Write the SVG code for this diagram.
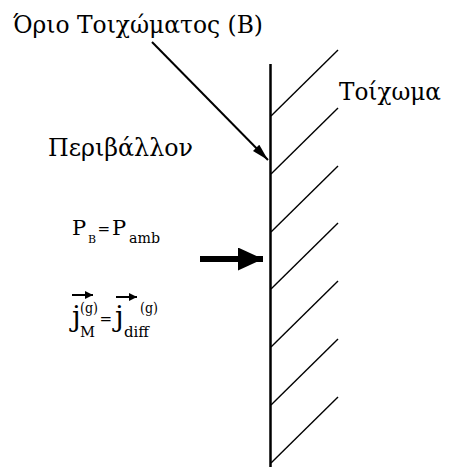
<svg xmlns="http://www.w3.org/2000/svg" width="449" height="468" viewBox="0 0 449 468">
<defs>
<style>
.hatch{stroke:#000;stroke-width:1.4;fill:none}
.vec{stroke:#000;stroke-width:2;fill:none}
</style>
<marker id="thin" viewBox="0 0 10 10" refX="10" refY="5" markerWidth="8" markerHeight="8" markerUnits="userSpaceOnUse" orient="auto"><path d="M0,0 L10,5 L0,10 z" fill="#000"/></marker>
<marker id="dhead" viewBox="0 0 10 10" refX="10" refY="5" markerWidth="17" markerHeight="9" markerUnits="userSpaceOnUse" orient="auto" preserveAspectRatio="none"><path d="M0,0 L10,5 L0,10 z" fill="#000"/></marker>
<marker id="bighead" viewBox="0 0 10 10" refX="10" refY="5" markerWidth="25" markerHeight="23" markerUnits="userSpaceOnUse" orient="auto" preserveAspectRatio="none"><path d="M0,0 L10,5 L0,10 z" fill="#000"/></marker>
</defs>
<rect width="449" height="468" fill="#fff"/>
<g id="wall">
<line x1="270.5" y1="64" x2="270.5" y2="467" stroke="#000" stroke-width="2.5"/>
<line class="hatch" x1="271" y1="116" x2="338" y2="50"/>
<line class="hatch" x1="271" y1="174" x2="338" y2="108"/>
<line class="hatch" x1="271" y1="232" x2="338" y2="166"/>
<line class="hatch" x1="271" y1="289" x2="338" y2="223"/>
<line class="hatch" x1="271" y1="347" x2="338" y2="281"/>
<line class="hatch" x1="271" y1="405" x2="338" y2="339"/>
<line class="hatch" x1="271" y1="463" x2="338" y2="397"/>
</g>
<g font-family="DejaVu Serif, serif" fill="#000">
<g id="boundary-label"><text x="13" y="33" font-size="25" textLength="250" lengthAdjust="spacingAndGlyphs">Όριο Τοιχώματος (Β)</text></g>
<g id="wall-label"><text x="339" y="100" font-size="24" textLength="102" lengthAdjust="spacingAndGlyphs">Τοίχωμα</text></g>
<g id="env-label"><text x="48" y="156" font-size="25" textLength="145" lengthAdjust="spacingAndGlyphs">Περιβάλλον</text></g>
<g id="pressure">
<text x="72" y="235" font-size="21">P</text>
<text x="88" y="243" font-size="11">B</text>
<text x="97.5" y="233.5" font-size="15">=</text>
<text x="112" y="235" font-size="21">P</text>
<text x="129" y="243" font-size="15" textLength="31" lengthAdjust="spacingAndGlyphs">amb</text>
</g>
<g id="flux">
<text x="72" y="326" font-size="28">j</text>
<text x="80" y="313" font-size="15" textLength="18" lengthAdjust="spacingAndGlyphs">(g)</text>
<text x="80" y="337" font-size="15" textLength="15" lengthAdjust="spacingAndGlyphs">M</text>
<text x="99.5" y="324" font-size="15">=</text>
<text x="115" y="326" font-size="28">j</text>
<text x="124" y="337" font-size="15" textLength="25" lengthAdjust="spacingAndGlyphs">diff</text>
<text x="140" y="313" font-size="15" textLength="18" lengthAdjust="spacingAndGlyphs">(g)</text>
</g>
</g>
<g id="connectors">
<line class="vec" x1="72" y1="295" x2="93" y2="295" marker-end="url(#thin)"/>
<line class="vec" x1="116" y1="297" x2="137" y2="297" marker-end="url(#thin)"/>
<line x1="152" y1="42" x2="268" y2="160" stroke="#000" stroke-width="2" marker-end="url(#dhead)"/>
<line x1="200" y1="259" x2="263" y2="259" stroke="#000" stroke-width="6" marker-end="url(#bighead)"/>
</g>
</svg>
